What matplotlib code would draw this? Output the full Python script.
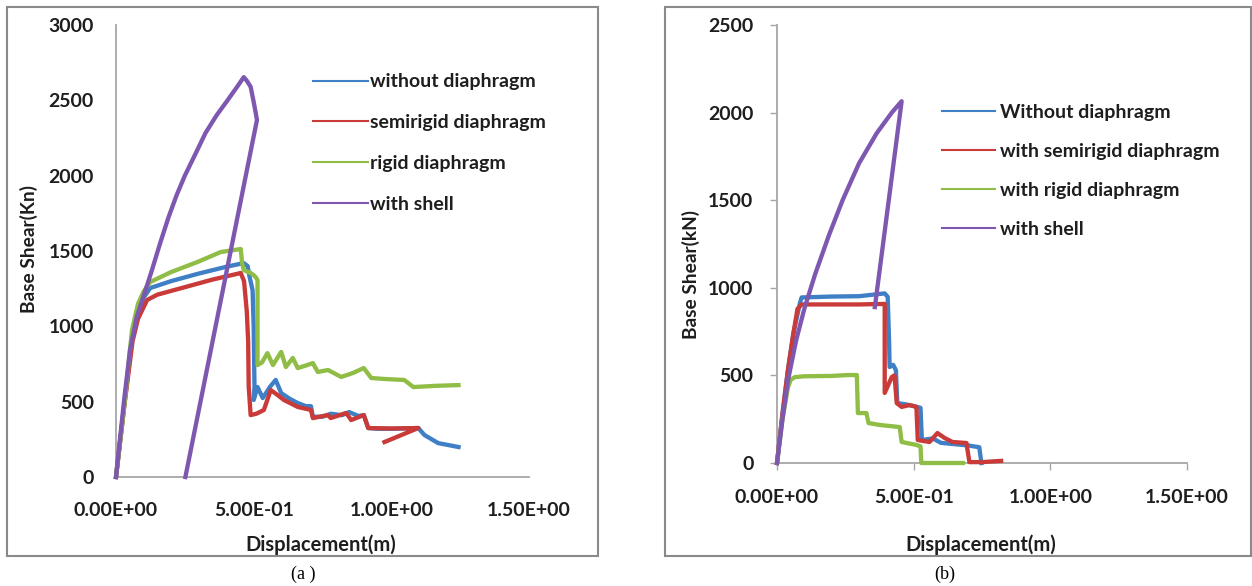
import matplotlib
matplotlib.use('Agg')
import matplotlib.pyplot as plt
from matplotlib.patches import Rectangle
from matplotlib.ticker import FuncFormatter

# ---- panel (a) data ----
a_labels = ['without diaphragm', 'semirigid diaphragm', 'rigid diaphragm', 'with shell']

a_without_x = [0, 0.03, 0.06, 0.08, 0.1, 0.124, 0.2, 0.3, 0.4, 0.464, 0.478, 0.485, 0.496, 0.5, 0.503,
               0.5, 0.514, 0.533, 0.56, 0.58, 0.6, 0.63, 0.66, 0.69, 0.708, 0.715, 0.75, 0.78, 0.82, 0.847,
               0.88, 0.9, 0.916, 0.95, 1.0, 1.05, 1.098, 1.12, 1.17, 1.244]
a_without_y = [0, 480, 930, 1100, 1190, 1254, 1300, 1350, 1395, 1420, 1400, 1330, 1240, 1000, 600,
               511, 597, 524, 600, 644, 557, 520, 491, 470, 470, 400, 400, 420, 410, 431,
               405, 411, 325, 320, 320, 322, 325, 279, 225, 199]

a_semi_x = [0, 0.03, 0.06, 0.08, 0.113, 0.15, 0.25, 0.35, 0.453, 0.465, 0.47, 0.475, 0.48, 0.482, 0.489,
            0.51, 0.537, 0.562, 0.587, 0.61, 0.66, 0.708, 0.715, 0.77, 0.78, 0.836, 0.854, 0.9, 0.916,
            1.0, 1.098, 0.975]
a_semi_y = [0, 470, 900, 1050, 1175, 1210, 1260, 1310, 1354, 1300, 1200, 1100, 900, 600, 411,
            420, 445, 577, 544, 511, 465, 445, 391, 411, 391, 425, 378, 411, 325,
            322, 325, 232]

a_rigid_x = [0, 0.03, 0.058, 0.08, 0.1, 0.124, 0.2, 0.3, 0.38, 0.453, 0.458, 0.464, 0.489, 0.5, 0.507,
             0.514, 0.514, 0.53, 0.55, 0.57, 0.6, 0.617, 0.642, 0.66, 0.69, 0.715, 0.733, 0.77, 0.818,
             0.86, 0.9, 0.927, 0.98, 1.047, 1.08, 1.16, 1.244]
a_rigid_y = [0, 470, 975, 1150, 1230, 1294, 1360, 1430, 1493, 1513, 1420, 1373, 1354, 1340, 1327,
             1307, 743, 760, 822, 743, 830, 730, 790, 723, 740, 756, 697, 710, 664,
             690, 723, 657, 650, 644, 597, 605, 610]

a_shell_x = [0, 0.03, 0.051, 0.075, 0.1, 0.13, 0.16, 0.19, 0.22, 0.25, 0.29, 0.325, 0.365, 0.405, 0.44,
             0.464, 0.475, 0.489, 0.5, 0.507, 0.512, 0.252]
a_shell_y = [0, 520, 843, 1060, 1200, 1370, 1550, 1720, 1870, 2000, 2150, 2283, 2400, 2500, 2590,
             2654, 2630, 2590, 2490, 2420, 2370, 0]

# ---- panel (b) data ----
b_labels = ['Without diaphragm', 'with semirigid diaphragm', 'with rigid diaphragm', 'with shell']

b_without_x = [0, 0.02, 0.04, 0.06, 0.084, 0.09, 0.2, 0.3, 0.394, 0.405, 0.41, 0.412, 0.425, 0.435, 0.44,
               0.47, 0.5, 0.525, 0.53, 0.57, 0.6, 0.7, 0.74, 0.748]
b_without_y = [0, 280, 530, 740, 913, 945, 950, 952, 968, 948, 700, 548, 560, 530, 342,
               335, 325, 315, 131, 140, 115, 100, 90, 0]

b_semi_x = [0, 0.02, 0.04, 0.06, 0.075, 0.09, 0.2, 0.3, 0.394, 0.394, 0.42, 0.43, 0.438, 0.456, 0.485,
            0.51, 0.515, 0.558, 0.587, 0.613, 0.642, 0.693, 0.704, 0.75, 0.82]
b_semi_y = [0, 280, 530, 740, 880, 905, 905, 905, 908, 400, 491, 500, 342, 320, 331,
            320, 131, 120, 171, 143, 120, 114, 5, 5, 12]

b_rigid_x = [0, 0.02, 0.04, 0.05, 0.065, 0.1, 0.2, 0.26, 0.292, 0.296, 0.327, 0.335, 0.376, 0.449, 0.456,
             0.51, 0.525, 0.528, 0.68]
b_rigid_y = [0, 250, 430, 475, 490, 495, 497, 502, 502, 285, 285, 228, 217, 205, 120,
             103, 95, 0, 0]

b_shell_x = [0, 0.02, 0.04, 0.07, 0.1, 0.14, 0.19, 0.24, 0.3, 0.365, 0.42, 0.456, 0.358]
b_shell_y = [0, 250, 470, 700, 880, 1080, 1300, 1500, 1710, 1883, 2000, 2065, 890]

colors = ['#3f7fc6', '#c93a38', '#8fbd45', '#7e57b0']

plt.rcParams['font.family'] = ['Lato', 'DejaVu Sans']

fig = plt.figure(figsize=(12.52, 5.86), dpi=100)

# panel frames
fig.patches.append(Rectangle((7 / 1252, 1 - 556 / 586), 591 / 1252, 549 / 586, transform=fig.transFigure,
                             fill=False, edgecolor='#8a8a8a', linewidth=1.5))
fig.patches.append(Rectangle((665 / 1252, 1 - 556 / 586), 586 / 1252, 549 / 586, transform=fig.transFigure,
                             fill=False, edgecolor='#8a8a8a', linewidth=1.5))

sci = FuncFormatter(lambda v, p: f'{v:.2E}')

# ---------------- (a) ----------------
ax1 = fig.add_axes([116 / 1252, 109 / 586, 413 / 1252, 452 / 586])
series_a = [(a_without_x, a_without_y), (a_semi_x, a_semi_y), (a_rigid_x, a_rigid_y), (a_shell_x, a_shell_y)]
for (xs, ys), c, lab in zip(series_a, colors, a_labels):
    ax1.plot(xs, ys, color=c, linewidth=3.1, label=lab, solid_joinstyle='round', zorder=3, clip_on=False)
ax1.set_xlim(0, 1.5)
ax1.set_ylim(0, 3000)
ax1.set_xticks([0, 0.5, 1.0, 1.5])
ax1.set_yticks([0, 500, 1000, 1500, 2000, 2500, 3000])
ax1.xaxis.set_major_formatter(sci)
ax1.tick_params(length=0, labelsize=14, colors='#1e1e1e')
ax1.tick_params(axis='y', pad=16)
ax1.tick_params(axis='x', pad=18)
for s in ['top', 'right']:
    ax1.spines[s].set_visible(False)
for s in ['left', 'bottom']:
    ax1.spines[s].set_color('#a6a6a6')
    ax1.spines[s].set_linewidth(1.3)
for t in ax1.get_xticklabels() + ax1.get_yticklabels():
    t.set_fontweight('bold')
ax1.set_xlabel('Displacement(m)', fontsize=14.5, fontweight='bold', color='#1e1e1e')
ax1.set_ylabel('Base Shear(Kn)', fontsize=13.8, fontweight='bold', color='#1e1e1e')
ax1.xaxis.set_label_coords(0.496, -0.126)
ax1.yaxis.set_label_coords(-0.19, 0.505)
leg1 = ax1.legend(loc='upper left', bbox_to_anchor=(0.477, 0.893), frameon=False, fontsize=14,
                  handlelength=2.84, handletextpad=0.1, labelspacing=1.23, borderpad=0, borderaxespad=0)
for h in leg1.get_lines():
    h.set_linewidth(1.5)
for t in leg1.get_texts():
    t.set_fontweight('bold')
    t.set_color('#1e1e1e')

# ---------------- (b) ----------------
ax2 = fig.add_axes([777 / 1252, 123 / 586, 410 / 1252, 438 / 586])
series_b = [(b_without_x, b_without_y), (b_semi_x, b_semi_y), (b_rigid_x, b_rigid_y), (b_shell_x, b_shell_y)]
for (xs, ys), c, lab in zip(series_b, colors, b_labels):
    ax2.plot(xs, ys, color=c, linewidth=3.1, label=lab, solid_joinstyle='round', zorder=3, clip_on=False)
ax2.set_xlim(0, 1.5)
ax2.set_ylim(0, 2500)
ax2.set_xticks([0, 0.5, 1.0, 1.5])
ax2.set_yticks([0, 500, 1000, 1500, 2000, 2500])
ax2.xaxis.set_major_formatter(sci)
ax2.tick_params(length=5, width=1, color='#a6a6a6', direction='out', labelsize=14, labelcolor='#1e1e1e')
ax2.tick_params(axis='y', pad=12)
ax2.tick_params(axis='x', pad=14)
for s in ['top', 'right']:
    ax2.spines[s].set_visible(False)
for s in ['left', 'bottom']:
    ax2.spines[s].set_color('#a6a6a6')
    ax2.spines[s].set_linewidth(1.3)
for t in ax2.get_xticklabels() + ax2.get_yticklabels():
    t.set_fontweight('bold')
ax2.set_xlabel('Displacement(m)', fontsize=14.5, fontweight='bold', color='#1e1e1e')
ax2.set_ylabel('Base Shear(kN)', fontsize=13.8, fontweight='bold', color='#1e1e1e')
ax2.xaxis.set_label_coords(0.498, -0.162)
ax2.yaxis.set_label_coords(-0.188, 0.43)
leg2 = ax2.legend(loc='upper left', bbox_to_anchor=(0.402, 0.819), frameon=False, fontsize=14,
                  handlelength=2.73, handletextpad=0.25, labelspacing=1.13, borderpad=0, borderaxespad=0)
for h in leg2.get_lines():
    h.set_linewidth(1.5)
for t in leg2.get_texts():
    t.set_fontweight('bold')
    t.set_color('#1e1e1e')

# captions
fig.text(303 / 1252, 1 - 574 / 586, '(a )', ha='center', va='center', fontsize=13,
         family=['Liberation Serif', 'DejaVu Serif'])
fig.text(945 / 1252, 1 - 574 / 586, '(b)', ha='center', va='center', fontsize=13,
         family=['Liberation Serif', 'DejaVu Serif'])

fig.savefig('out.png', dpi=100)
